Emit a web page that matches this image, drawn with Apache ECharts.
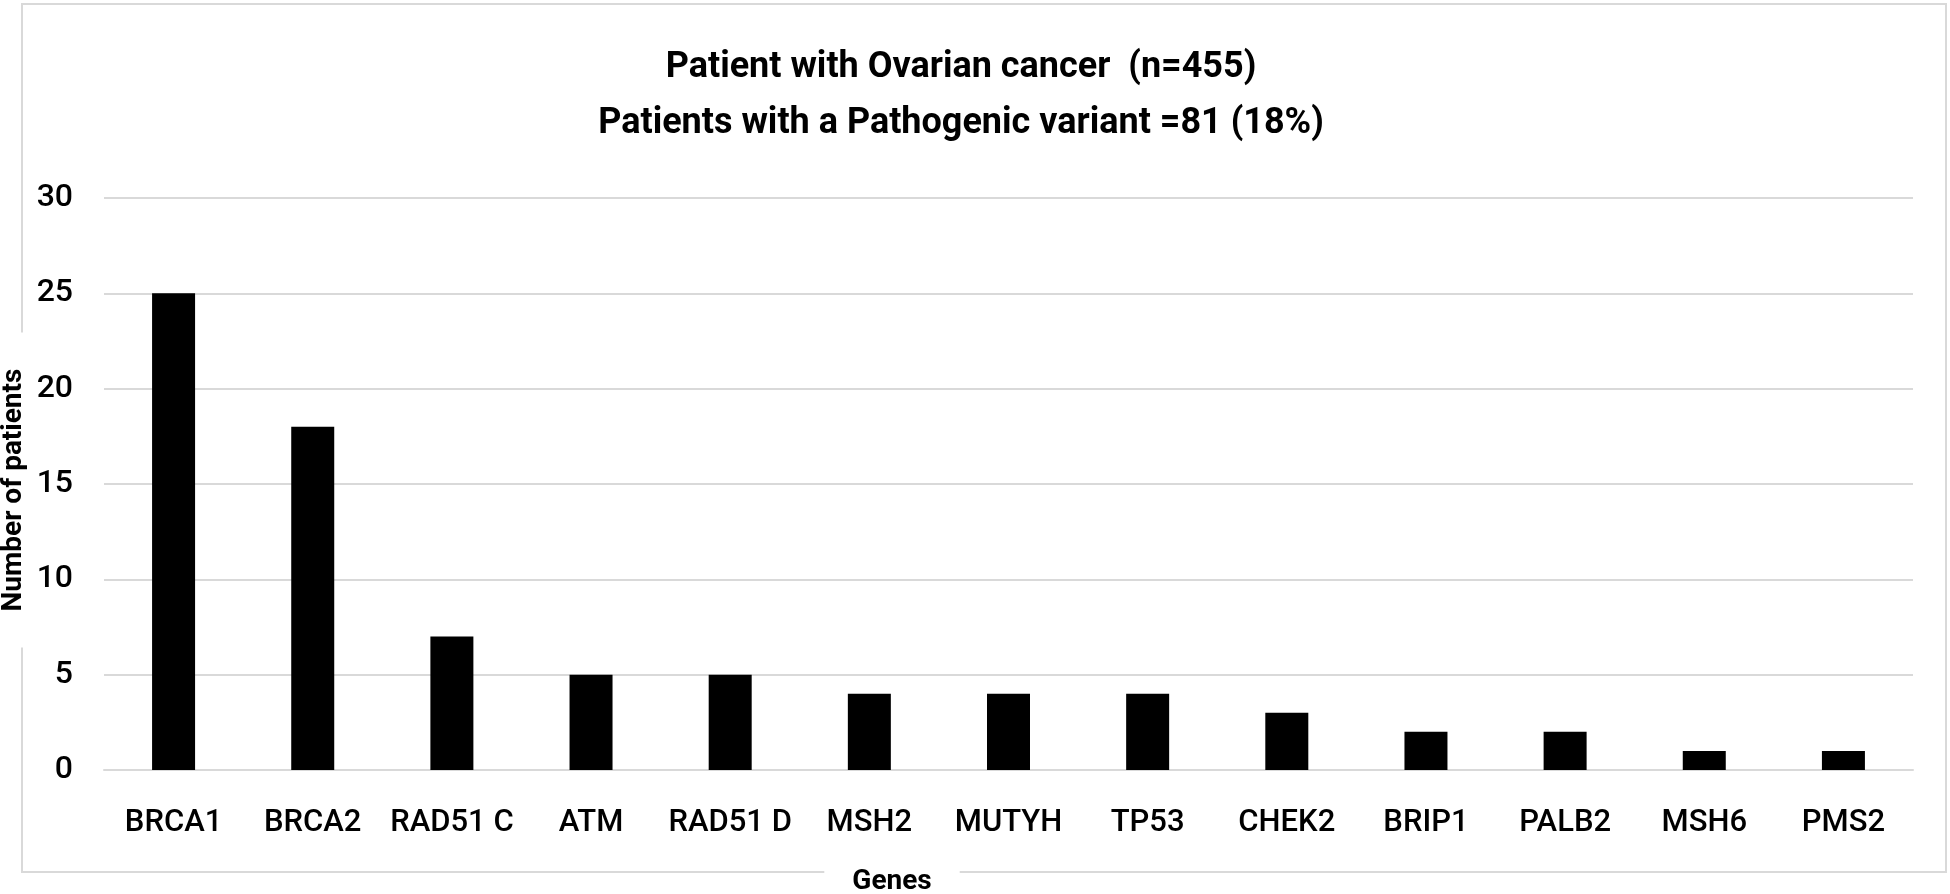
<!DOCTYPE html>
<html>
<head>
<meta charset="utf-8">
<script src="https://cdn.jsdelivr.net/npm/echarts@6/dist/echarts.min.js"></script>
<style>
  html, body { margin: 0; padding: 0; background: #fff; }
  #chart { width: 1950px; height: 894px; }
</style>
</head>
<body>
<div id="chart"></div>
<script>
// 数据
var genes = ['BRCA1', 'BRCA2', 'RAD51 C', 'ATM', 'RAD51 D', 'MSH2', 'MUTYH', 'TP53', 'CHEK2', 'BRIP1', 'PALB2', 'MSH6', 'PMS2'];
var patients = [25, 18, 7, 5, 5, 4, 4, 4, 3, 2, 2, 1, 1];
var titleLines = ['Patient with Ovarian cancer  (n=455)', 'Patients with a Pathogenic variant =81 (18%)'];

var font = 'Roboto, "Liberation Sans", sans-serif';
var gridColor = '#d9d9d9';

var chart = echarts.init(document.getElementById('chart'));

var option = {
  backgroundColor: '#fff',
  animation: false,
  title: {
    text: titleLines.join('\n'),
    left: 956,
    top: 35,
    textAlign: 'center',
    textStyle: {
      fontFamily: font,
      fontWeight: 'bold',
      fontSize: 36,
      lineHeight: 56,
      color: '#000'
    }
  },
  grid: {
    left: 104,
    right: 37,
    top: 198,
    bottom: 124
  },
  xAxis: {
    type: 'category',
    data: genes,
    axisLine: { lineStyle: { color: gridColor, width: 2 } },
    axisTick: { show: false },
    axisLabel: {
      margin: 38,
      fontFamily: font,
      fontWeight: 500,
      fontSize: 31,
      color: '#000',
      interval: 0
    }
  },
  yAxis: {
    type: 'value',
    min: 0,
    max: 30,
    interval: 5,
    axisLine: { show: false },
    axisTick: { show: false },
    splitLine: { lineStyle: { color: gridColor, width: 2 } },
    axisLabel: {
      margin: 31,
      fontFamily: font,
      fontWeight: 500,
      fontSize: 32,
      color: '#000'
    }
  },
  // 外框和坐标轴标题
  graphic: [
    {
      type: 'rect',
      z: -10,
      shape: { x: 22, y: 4, width: 1924, height: 868 },
      style: { fill: 'none', stroke: gridColor, lineWidth: 2 }
    },
    {
      type: 'text',
      z: 10,
      x: 14,
      y: 490,
      rotation: Math.PI / 2,
      style: {
        text: 'Number of patients',
        fontFamily: font,
        fontWeight: 'bold',
        fontSize: 28,
        fill: '#000',
        align: 'center',
        verticalAlign: 'middle',
        backgroundColor: '#fff',
        padding: [4, 36]
      }
    },
    {
      type: 'text',
      z: 10,
      x: 892,
      y: 882,
      style: {
        text: 'Genes',
        fontFamily: font,
        fontWeight: 'bold',
        fontSize: 28,
        fill: '#000',
        align: 'center',
        verticalAlign: 'middle',
        backgroundColor: '#fff',
        padding: [2, 28]
      }
    }
  ],
  series: [{
    name: 'Number of patients',
    type: 'bar',
    data: patients,
    barWidth: 43,
    itemStyle: { color: '#000' }
  }]
};

chart.setOption(option);
</script>
</body>
</html>
